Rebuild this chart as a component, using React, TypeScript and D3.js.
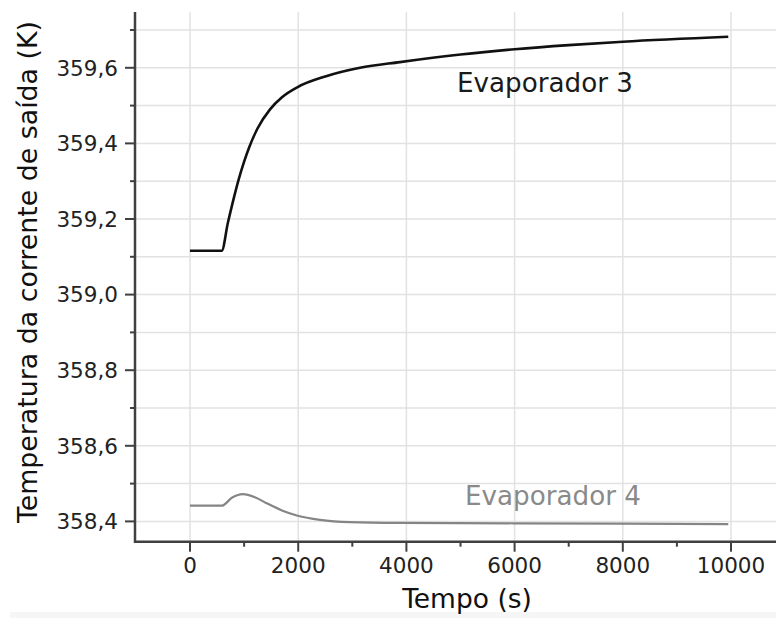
import React from 'react';
import * as d3 from 'd3';

// time (s) and outlet temperature (K)
const evap3Time = [0, 586, 700, 800, 900, 1000, 1100, 1250, 1479, 1700, 1990, 2500, 3142, 3880, 5000, 6000, 7000, 8000, 9950];
const evap3Temp = [359.116, 359.116, 359.19, 359.25, 359.305, 359.352, 359.392, 359.44, 359.49, 359.522, 359.549, 359.577, 359.6, 359.615, 359.635, 359.649, 359.66, 359.669, 359.682];

const evap4Time = [0, 586, 780, 974, 1200, 1417, 1700, 1990, 2403, 2957, 3880, 6000, 8000, 9950];
const evap4Temp = [358.4415, 358.4415, 358.463, 358.472, 358.464, 358.448, 358.429, 358.415, 358.404, 358.398, 358.396, 358.395, 358.394, 358.393];

const xMajor = [0, 2000, 4000, 6000, 8000, 10000];
const xMinor = [1000, 3000, 5000, 7000, 9000];
const yMajor = [358.4, 358.6, 358.8, 359.0, 359.2, 359.4, 359.6];
const yMinor = [358.5, 358.7, 358.9, 359.1, 359.3, 359.5, 359.7];

const width = 776;
const height = 618;
const font = 'DejaVu Sans, Verdana, sans-serif';

const App = () => {
    const x = d3.scaleLinear().domain([-1017, 10832]).range([135, 776]);
    const y = d3.scaleLinear().domain([358.3463, 359.7476]).range([541.7, 12]);

    const line = d3.line<[number, number]>()
        .x(d => x(d[0]))
        .y(d => y(d[1]))
        .curve(d3.curveMonotoneX);

    const path3 = line(evap3Time.map((t, i) => [t, evap3Temp[i]]));
    const path4 = line(evap4Time.map((t, i) => [t, evap4Temp[i]]));

    const [x0, x1] = x.range();
    const [y0, y1] = y.range();
    const fmt = (v: number) => v.toFixed(1).replace('.', ',');
    const axisColor = '#404040';

    return (
        <svg width={width} height={height} style={{ position: 'absolute', left: 0, top: 0, background: '#fff' }}>
            <rect x={10} y={612} width={width} height={6} fill="#f6f6f6" />

            {/* grid */}
            {yMajor.concat(yMinor).map(v => (
                <line key={'gy' + v} x1={x0} x2={x1} y1={y(v)} y2={y(v)} stroke="#e2e2e2" strokeWidth={1.5} />
            ))}
            {xMajor.map(v => (
                <line key={'gx' + v} x1={x(v)} x2={x(v)} y1={y1} y2={y0} stroke="#e2e2e2" strokeWidth={1.5} />
            ))}

            {/* lines */}
            <path d={path4 ?? ''} fill="none" stroke="#858585" strokeWidth={2.2} />
            <path d={path3 ?? ''} fill="none" stroke="#111" strokeWidth={2.6} />

            {/* axes */}
            <line x1={x0} x2={x1} y1={y0} y2={y0} stroke={axisColor} strokeWidth={2.5} />
            <line x1={x0} x2={x0} y1={y0 + 1.2} y2={y1} stroke={axisColor} strokeWidth={2.5} />
            {xMajor.map(v => (
                <g key={'xt' + v}>
                    <line x1={x(v)} x2={x(v)} y1={y0} y2={y0 + 10} stroke={axisColor} strokeWidth={2} />
                    <text x={x(v)} y={573} textAnchor="middle" fontSize={21.5} fontFamily={font} fill="#222">{v}</text>
                </g>
            ))}
            {xMinor.map(v => (
                <line key={'xm' + v} x1={x(v)} x2={x(v)} y1={y0} y2={y0 + 5} stroke={axisColor} strokeWidth={2} />
            ))}
            {yMajor.map(v => (
                <g key={'yt' + v}>
                    <line x1={x0 - 10} x2={x0} y1={y(v)} y2={y(v)} stroke={axisColor} strokeWidth={2} />
                    <text x={118} y={y(v)} dy="0.36em" textAnchor="end" fontSize={21.5} fontFamily={font} fill="#222">{fmt(v)}</text>
                </g>
            ))}
            {yMinor.map(v => (
                <line key={'ym' + v} x1={x0 - 5} x2={x0} y1={y(v)} y2={y(v)} stroke={axisColor} strokeWidth={2} />
            ))}

            {/* titles */}
            <text x={467} y={608} textAnchor="middle" fontSize={26.5} fontFamily={font} fill="#111">Tempo (s)</text>
            <text transform="translate(37,272) rotate(-90)" textAnchor="middle" fontSize={26.8} fontFamily={font} fill="#111">
                Temperatura da corrente de saída (K)
            </text>

            {/* series labels */}
            <text x={457} y={92} fontSize={26.2} fontFamily={font} fill="#1a1a1a">Evaporador 3</text>
            <text x={465} y={505} fontSize={26.2} fontFamily={font} fill="#8a8a8a">Evaporador 4</text>
        </svg>
    );
};

export default App;
